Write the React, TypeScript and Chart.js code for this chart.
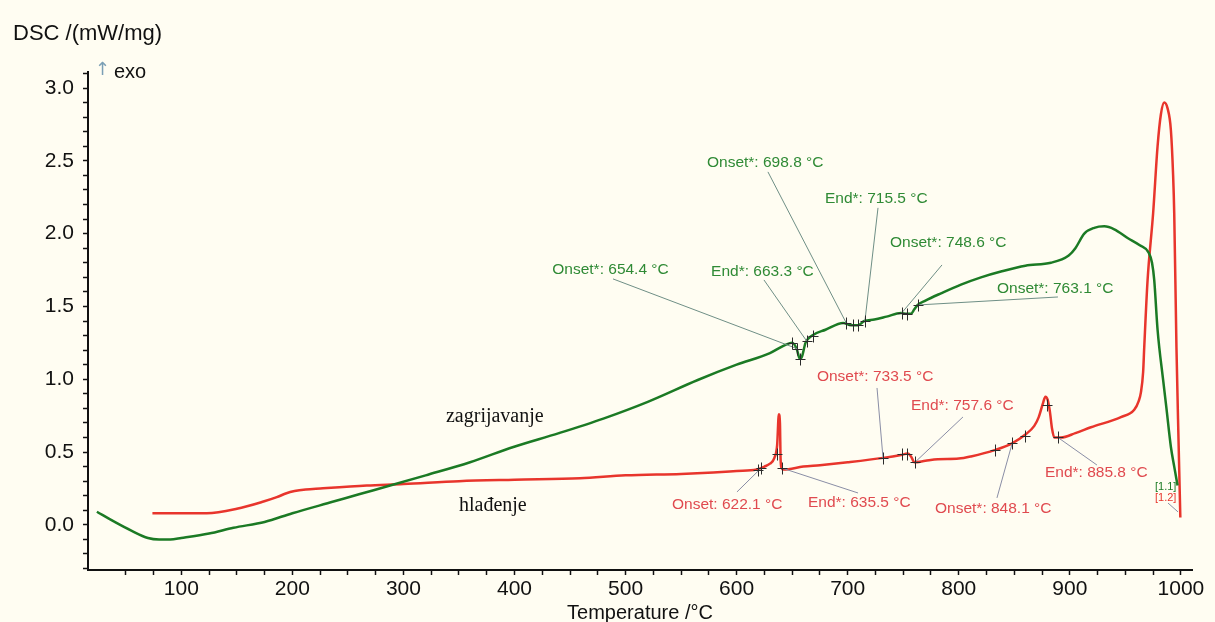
import React, { useEffect, useRef } from "react";
import { Chart, registerables } from "chart.js";

Chart.register(...registerables);

// ---------- data ----------
const heatT = [24, 40, 55, 70, 80, 90, 100, 125, 147, 175, 200, 237, 260, 288, 320, 360, 399, 440, 480, 520, 565, 600, 630, 645, 650, 654, 657, 659, 662, 668, 680, 696, 703, 709, 715, 724, 735, 748, 753, 757, 760, 763, 770, 784, 802, 820, 838, 860, 883, 899, 905, 913, 922, 931, 940, 952, 963, 971, 974, 976, 979, 984, 987, 991, 994, 997];
const heatDSC = [0.09, 0.02, -0.04, -0.09, -0.10, -0.10, -0.09, -0.06, -0.02, 0.02, 0.08, 0.16, 0.21, 0.27, 0.34, 0.43, 0.535, 0.63, 0.73, 0.845, 0.995, 1.10, 1.18, 1.24, 1.25, 1.21, 1.14, 1.16, 1.25, 1.30, 1.34, 1.387, 1.37, 1.37, 1.40, 1.41, 1.43, 1.455, 1.45, 1.45, 1.48, 1.51, 1.54, 1.59, 1.65, 1.70, 1.74, 1.78, 1.80, 1.85, 1.90, 2.00, 2.04, 2.05, 2.03, 1.97, 1.92, 1.87, 1.80, 1.68, 1.34, 0.995, 0.80, 0.535, 0.40, 0.27];

const coolT = [74, 100, 123, 150, 174, 186, 194, 202, 212, 225, 267, 300, 350, 400, 459, 500, 550, 579, 600, 618, 625, 630, 634, 636.5, 638, 639, 639.6, 640.5, 642, 660, 675, 700, 732, 748, 754, 757, 760, 770, 781, 800, 811, 833, 848, 860, 868, 872, 876, 878, 880, 882, 884, 886, 892, 905, 919, 946, 958, 962, 964, 966, 967, 970, 975, 979, 982, 985, 988, 991, 993, 994, 996, 998, 999.5];
const coolDSC = [0.08, 0.08, 0.08, 0.11, 0.16, 0.19, 0.215, 0.232, 0.243, 0.25, 0.27, 0.28, 0.30, 0.31, 0.32, 0.34, 0.35, 0.36, 0.37, 0.38, 0.40, 0.42, 0.46, 0.55, 0.76, 0.70, 0.45, 0.39, 0.38, 0.40, 0.41, 0.43, 0.46, 0.48, 0.49, 0.47, 0.43, 0.44, 0.45, 0.455, 0.47, 0.515, 0.56, 0.62, 0.68, 0.74, 0.84, 0.88, 0.86, 0.78, 0.66, 0.60, 0.60, 0.63, 0.67, 0.74, 0.79, 0.85, 0.91, 1.05, 1.22, 1.68, 2.14, 2.60, 2.82, 2.90, 2.86, 2.71, 2.40, 2.14, 1.22, 0.54, 0.05];

// tangent / evaluation markers on the curves
const heatMarkT = [650, 654.4, 657, 663.3, 669, 698.8, 705, 709, 715.5, 748.6, 753, 763.1];
const heatMarkV = [1.25, 1.21, 1.14, 1.26, 1.30, 1.385, 1.37, 1.37, 1.40, 1.455, 1.45, 1.51];
const coolMarkT = [619, 622.1, 636.5, 640.8, 731.8, 749, 753.5, 760.6, 832.6, 848.1, 859.6, 879.4, 889.3];
const coolMarkV = [0.38, 0.39, 0.49, 0.39, 0.46, 0.485, 0.485, 0.43, 0.515, 0.56, 0.61, 0.82, 0.60];

// annotation labels: text anchor (lx, ly), leader start (sx, sy), leader end on curve (ex, ey)
const heatNotes = [
  { text: "Onset*: 654.4 °C", lx: 434, ly: 1.751, sx: 488.7, sy: 1.689, ex: 654.4, ey: 1.21 },
  { text: "End*: 663.3 °C", lx: 577, ly: 1.737, sx: 624.6, sy: 1.682, ex: 663.3, ey: 1.26 },
  { text: "Onset*: 698.8 °C", lx: 573.3, ly: 2.486, sx: 628.2, sy: 2.424, ex: 698.8, ey: 1.385 },
  { text: "End*: 715.5 °C", lx: 679.5, ly: 2.238, sx: 727.3, sy: 2.177, ex: 715.5, ey: 1.40 },
  { text: "Onset*: 748.6 °C", lx: 738.1, ly: 1.936, sx: 784.9, sy: 1.785, ex: 748.6, ey: 1.455 },
  { text: "Onset*: 763.1 °C", lx: 834.4, ly: 1.620, sx: 889.3, sy: 1.565, ex: 763.1, ey: 1.51 },
];
const coolNotes = [
  { text: "Onset: 622.1 °C", lx: 541.8, ly: 0.137, sx: 600.3, sy: 0.226, ex: 622.1, ey: 0.39 },
  { text: "End*: 635.5 °C", lx: 664.2, ly: 0.150, sx: 709.3, sy: 0.219, ex: 640.8, ey: 0.39 },
  { text: "Onset*: 733.5 °C", lx: 672.3, ly: 1.016, sx: 726.4, sy: 0.940, ex: 731.8, ey: 0.46 },
  { text: "End*: 757.6 °C", lx: 757.0, ly: 0.817, sx: 803.8, sy: 0.741, ex: 760.6, ey: 0.43 },
  { text: "Onset*: 848.1 °C", lx: 778.6, ly: 0.109, sx: 834.4, sy: 0.185, ex: 848.1, ey: 0.56 },
  { text: "End*: 885.8 °C", lx: 877.6, ly: 0.356, sx: 924.4, sy: 0.411, ex: 889.3, ey: 0.60 },
];

const seriesNames = ["zagrijavanje", "hlađenje"];
const seriesNameT = [338.3, 350];
const seriesNameV = [0.741, 0.13];

const runTags = ["[1.1]", "[1.2]"];
const runTagT = [976.7, 976.7];
const runTagV = [0.26, 0.185];

const xMajorTicks = [100, 200, 300, 400, 500, 600, 700, 800, 900, 1000];
const yMajorTicks = ["0.0", "0.5", "1.0", "1.5", "2.0", "2.5", "3.0"];
const xMinorStep = 25;
const yMinorStep = 0.1;

const yTitle = "DSC /(mW/mg)";
const xTitle = "Temperature /°C";

// ---------- styles ----------
const BG = "#fffdf2";
const GREEN = "#1b7a24";
const GREEN_TXT = "#2f8a35";
const RED = "#e8352c";
const RED_TXT = "#e04a4f";
const SANS = "'Liberation Sans', Arial, 'DejaVu Sans', sans-serif";
const SERIF = "'Liberation Serif', 'Times New Roman', serif";

const xTickList: number[] = [];
for (let v = 50; v <= 1000; v += xMinorStep) xTickList.push(v);
const yTickList: number[] = [];
for (let i = -3; i <= 31; i++) yTickList.push(Math.round(i * yMinorStep * 10) / 10);

function txt(ctx: any, s: string, x: number, y: number, font: string, color: string, align = "left") {
  ctx.save();
  ctx.font = font;
  ctx.fillStyle = color;
  ctx.textAlign = align;
  ctx.textBaseline = "middle";
  ctx.fillText(s, x, y);
  ctx.restore();
}

const overlay = {
  id: "overlay",
  beforeDraw(chart: any) {
    const { ctx, width, height } = chart;
    ctx.save();
    ctx.fillStyle = BG;
    ctx.fillRect(0, 0, width, height);
    ctx.restore();
  },
  afterDatasetsDraw(chart: any) {
    const { ctx } = chart;
    const xs = chart.scales.x;
    const ys = chart.scales.y;
    const X = (v: number) => xs.getPixelForValue(v);
    const Y = (v: number) => ys.getPixelForValue(v);

    const leaders = (notes: any[], color: string) => {
      ctx.save();
      ctx.strokeStyle = color;
      ctx.lineWidth = 1;
      notes.forEach((n) => {
        ctx.beginPath();
        ctx.moveTo(X(n.sx), Y(n.sy));
        ctx.lineTo(X(n.ex), Y(n.ey));
        ctx.stroke();
      });
      ctx.restore();
    };
    leaders(heatNotes, "#6f8f86");
    leaders(coolNotes, "#8a8ea6");

    const marks = (ts: number[], vs: number[]) => {
      ctx.save();
      ctx.strokeStyle = "#2b2b2b";
      ctx.lineWidth = 1;
      ts.forEach((t, i) => {
        const px = Math.round(X(t)) + 0.5;
        const py = Math.round(Y(vs[i])) + 0.5;
        ctx.beginPath();
        ctx.moveTo(px - 5, py);
        ctx.lineTo(px + 5, py);
        ctx.moveTo(px, py - 6);
        ctx.lineTo(px, py + 6);
        ctx.stroke();
      });
      ctx.restore();
    };
    marks(heatMarkT, heatMarkV);
    marks(coolMarkT, coolMarkV);

    heatNotes.forEach((n) => txt(ctx, n.text, X(n.lx), Y(n.ly), `15.5px ${SANS}`, GREEN_TXT));
    coolNotes.forEach((n) => txt(ctx, n.text, X(n.lx), Y(n.ly), `15.5px ${SANS}`, RED_TXT));

    seriesNames.forEach((s, i) => txt(ctx, s, X(seriesNameT[i]), Y(seriesNameV[i]), `20px ${SERIF}`, "#111"));

    txt(ctx, runTags[0], X(runTagT[0]), Y(runTagV[0]), `11px ${SANS}`, GREEN);
    txt(ctx, runTags[1], X(runTagT[1]), Y(runTagV[1]), `11px ${SANS}`, RED);
    ctx.save();
    ctx.strokeStyle = "#8a8ea6";
    ctx.lineWidth = 1;
    ctx.beginPath();
    ctx.moveTo(X(988.4), Y(0.15));
    ctx.lineTo(X(997.4), Y(0.089));
    ctx.stroke();
    ctx.restore();
  },
  afterDraw(chart: any) {
    const { ctx, chartArea } = chart;
    txt(ctx, yTitle, 13, 34, `22px ${SANS}`, "#111");
    txt(ctx, "↑", 95, 70, `18px 'DejaVu Sans', sans-serif`, "#7b9fb5");
    txt(ctx, "exo", 114, 72, `20px ${SANS}`, "#111");
    txt(ctx, xTitle, (chartArea.left + chartArea.right) / 2, 613, `20px ${SANS}`, "#111", "center");
  },
};

export default function App() {
  const ref = useRef<HTMLCanvasElement | null>(null);

  useEffect(() => {
    if (!ref.current) return;
    const chart = new Chart(ref.current, {
      type: "line",
      data: {
        datasets: [
          {
            label: seriesNames[0],
            data: heatT.map((t, i) => ({ x: t, y: heatDSC[i] })),
            borderColor: GREEN,
            borderWidth: 2.5,
            pointRadius: 0,
            cubicInterpolationMode: "monotone",
            fill: false,
          },
          {
            label: seriesNames[1],
            data: coolT.map((t, i) => ({ x: t, y: coolDSC[i] })),
            borderColor: RED,
            borderWidth: 2.5,
            pointRadius: 0,
            cubicInterpolationMode: "monotone",
            fill: false,
          },
        ],
      },
      options: {
        animation: false,
        responsive: false,
        devicePixelRatio: 1,
        layout: { padding: { left: 0, right: 23, top: 72, bottom: 0 } },
        plugins: { legend: { display: false }, tooltip: { enabled: false }, title: { display: false } },
        scales: {
          x: {
            type: "linear",
            min: 16,
            max: 1010,
            afterBuildTicks: (s: any) => {
              s.ticks = xTickList.map((v) => ({ value: v }));
            },
            afterFit: (s: any) => {
              s.height = 52;
            },
            ticks: {
              autoSkip: false,
              maxRotation: 0,
              padding: 2,
              color: "#111",
              font: { size: 21, family: SANS },
              callback: (v: any) => (xMajorTicks.includes(Number(v)) ? String(v) : ""),
            },
            grid: { drawOnChartArea: false, drawTicks: true, tickLength: 5, tickColor: "#111", tickWidth: 1.5 },
            border: { display: true, color: "#111", width: 2 },
          },
          y: {
            type: "linear",
            min: -0.31,
            max: 3.11,
            afterBuildTicks: (s: any) => {
              s.ticks = yTickList.map((v) => ({ value: v }));
            },
            afterFit: (s: any) => {
              s.width = 88;
            },
            ticks: {
              autoSkip: false,
              padding: 9,
              color: "#111",
              font: { size: 21, family: SANS },
              callback: (v: any) => {
                const s = Number(v).toFixed(1);
                return yMajorTicks.includes(s) ? s : "";
              },
            },
            grid: { drawOnChartArea: false, drawTicks: true, tickLength: 5, tickColor: "#111", tickWidth: 1.5 },
            border: { display: true, color: "#111", width: 2 },
          },
        },
      },
      plugins: [overlay],
    } as any);
    return () => chart.destroy();
  }, []);

  return (
    <div style={{ position: "fixed", left: 0, top: 0, width: 1215, height: 622, background: BG }}>
      <canvas ref={ref} width={1215} height={622} style={{ display: "block" }} />
    </div>
  );
}
